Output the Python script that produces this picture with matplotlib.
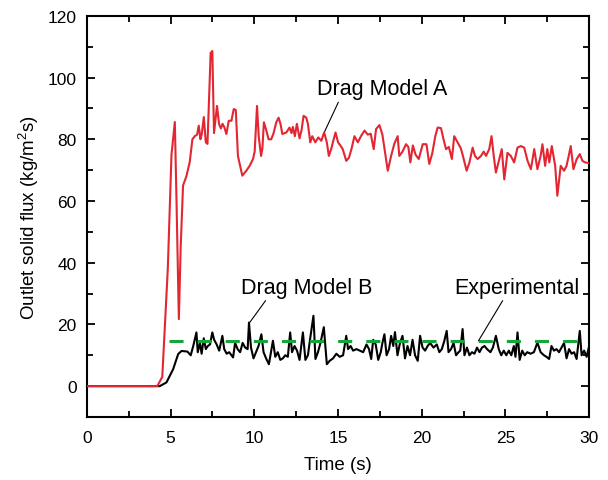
import numpy as np
import matplotlib.pyplot as plt
from matplotlib.ticker import MultipleLocator

# Drag Model A (red)
t_a = [0, 4.2, 4.5, 4.83, 5.05, 5.25, 5.35, 5.49, 5.6, 5.74, 5.94, 6.14, 6.3, 6.44, 6.58, 6.68,
       6.78, 6.86, 6.98, 7.1, 7.2, 7.39, 7.49, 7.59, 7.77, 7.89, 8.0, 8.1, 8.2, 8.33, 8.47, 8.63,
       8.77, 8.89, 9.02, 9.28, 9.52, 9.72, 9.92, 10.02, 10.16, 10.26, 10.4, 10.48, 10.57, 10.71,
       10.85, 11.01, 11.15, 11.31, 11.45, 11.57, 11.67, 11.91, 12.1, 12.22, 12.3, 12.42, 12.54,
       12.7, 12.82, 12.94, 13.1, 13.2, 13.34, 13.46, 13.64, 13.82, 14.0, 14.17, 14.33, 14.45,
       14.6, 14.69, 14.85, 15.0, 15.14, 15.28, 15.49, 15.65, 15.8, 15.98, 16.18, 16.38, 16.58,
       16.78, 16.95, 17.13, 17.27, 17.47, 17.65, 17.8, 17.97, 18.17, 18.36, 18.56, 18.66, 18.85,
       19.06, 19.2, 19.32, 19.47, 19.63, 19.82, 20.06, 20.28, 20.45, 20.63, 20.81, 20.95, 21.15,
       21.3, 21.45, 21.62, 21.8, 21.94, 22.14, 22.34, 22.46, 22.68, 22.85, 23.04, 23.18, 23.34,
       23.54, 23.7, 23.84, 24.03, 24.17, 24.3, 24.43, 24.63, 24.78, 24.93, 25.12, 25.32, 25.52,
       25.72, 25.92, 26.12, 26.32, 26.52, 26.72, 26.91, 27.1, 27.21, 27.37, 27.5, 27.62, 27.77,
       27.97, 28.1, 28.3, 28.5, 28.65, 28.78, 28.9, 29.06, 29.25, 29.44, 29.6, 29.75, 30.0]
flux_a = [0, 0, 3, 38, 75, 85.6, 60, 21.7, 45, 65, 68, 72.6, 80, 81, 81.5, 84.4,
          80, 81.7, 87.2, 79, 78.5, 108, 108.6, 82, 90.8, 85, 83.5, 85, 84, 81.7, 86, 86,
          89.8, 89.5, 74.6, 68.2, 69.8, 71.4, 73.6, 76, 90.8, 81, 74.6, 77, 85.5, 83,
          80, 80, 82, 85.5, 87, 84.8, 81.7, 82.2, 83.8, 82, 84, 81, 85,
          80.3, 83, 87.6, 87, 85, 79, 81, 79, 80.6, 79.5, 82.2, 79, 74.6,
          77, 79, 82.2, 79, 78, 76.8, 73, 74, 76.8, 81, 79, 81.1, 82.8,
          81.5, 81.8, 76.8, 83.3, 84.6, 81.5, 76, 69.8, 74.6, 78.5, 81, 74.6, 76,
          78.4, 77.5, 72.5, 78, 75, 73.6, 78.4, 78.4, 72, 75.5, 81, 83.8, 83.6,
          80, 76.8, 77.5, 73.6, 81, 79, 77, 74.6, 69.8, 72.5, 77.3, 74.6, 73.6,
          74.6, 76, 74.6, 76.8, 81, 74.6, 69.2, 73.6, 76.8, 67, 75.6, 74.6, 72.5,
          77.3, 77.8, 77.3, 73, 70.3, 76.8, 70.3, 74.6, 78.4, 71.4, 76.8, 72.5, 77.8,
          71.4, 61.7, 71.4, 69.8, 71.4, 74.6, 77.8, 70.3, 73.5, 75.2, 73, 72.5, 72.3]

# Drag Model B (black)
t_b = [0, 4.35, 4.75, 5.15, 5.45, 5.65, 6.0, 6.2, 6.35, 6.54, 6.62, 6.75, 6.85, 6.98, 7.1, 7.22,
       7.35, 7.49, 7.6, 7.75, 7.9, 8.09, 8.2, 8.35, 8.5, 8.73, 8.85, 9.0, 9.15, 9.3, 9.45, 9.6,
       9.68, 9.8, 9.95, 10.1, 10.25, 10.42, 10.55, 10.7, 10.87, 11.11, 11.25, 11.4, 11.55, 11.7,
       11.85, 12.0, 12.14, 12.25, 12.4, 12.55, 12.7, 12.9, 13.05, 13.2, 13.35, 13.53, 13.65, 13.8,
       13.95, 14.15, 14.33, 14.5, 14.7, 14.9, 15.1, 15.3, 15.49, 15.6, 15.75, 15.9, 16.1, 16.3,
       16.5, 16.7, 16.85, 16.98, 17.1, 17.25, 17.4, 17.55, 17.65, 17.77, 17.9, 18.05, 18.17, 18.3,
       18.4, 18.55, 18.7, 18.85, 19.0, 19.15, 19.3, 19.45, 19.6, 19.76, 19.9, 20.05, 20.2, 20.35,
       20.5, 20.7, 20.9, 21.05, 21.2, 21.35, 21.49, 21.6, 21.75, 21.9, 22.05, 22.2, 22.3, 22.44,
       22.55, 22.7, 22.85, 23.0, 23.15, 23.3, 23.45, 23.6, 23.75, 23.9, 24.1, 24.25, 24.43, 24.6,
       24.75, 24.9, 25.05, 25.2, 25.35, 25.5, 25.6, 25.72, 25.85, 26.0, 26.15, 26.3, 26.5, 26.7,
       26.91, 27.1, 27.3, 27.45, 27.61, 27.75, 27.9, 28.05, 28.2, 28.35, 28.5, 28.65, 28.8, 28.95,
       29.1, 29.25, 29.44, 29.55, 29.7, 29.85, 30.0]
flux_b = [0, 0, 1.2, 5.5, 10.4, 11.4, 11.2, 10, 13, 17.4, 11, 14, 10.5, 15.5, 12, 13,
          13.5, 17.4, 15, 13.5, 11.5, 16.3, 12, 10.5, 11, 9.3, 14, 12, 11, 14, 12.5, 12,
          20.6, 12.5, 9, 11, 13, 16.8, 11, 9, 7.1, 14.7, 9.5, 11, 8.5, 9,
          10, 9.5, 17.4, 11, 13, 11.5, 8.5, 17.4, 8.5, 10, 16, 22.8, 8.8, 11,
          14, 19.1, 7.1, 8.2, 9, 10.5, 9.5, 10, 16.3, 12, 13, 11.5, 12, 11.5,
          11, 13.5, 12, 8.8, 15, 13.5, 8.5, 11, 14, 16.8, 10, 12, 16.3, 13,
          17.5, 10, 14, 16.3, 9, 13, 10, 15, 10, 8.2, 16.3, 12.5, 11.5, 13,
          14, 12.5, 13.5, 11, 12, 14.7, 17.9, 11, 12, 14, 10, 11, 11.5, 18.5,
          10, 12.5, 10, 11, 10.5, 12.5, 11, 12.5, 13, 12, 11, 12.5, 16.3, 12,
          10, 11.5, 10, 11.5, 10, 13, 9.5, 17.4, 8.5, 11.5, 10, 11, 10.5, 11,
          14.1, 11, 10, 9.5, 8.8, 13, 11.5, 12, 11, 12.5, 14, 9, 12, 10.5,
          11, 8.8, 17.9, 10, 11.5, 9.5, 13]

# Experimental (green dashed)
t_exp = [4.9, 29.6]
flux_exp = [14.5, 14.5]

plt.rcParams['font.family'] = ['Liberation Sans', 'DejaVu Sans']
plt.rcParams['mathtext.fontset'] = 'custom'
plt.rcParams['mathtext.rm'] = 'Liberation Sans'

fig = plt.figure(figsize=(6.08, 4.81), dpi=100)
ax = fig.add_axes([0.143, 0.131, 0.826, 0.834])

ax.plot(t_b, flux_b, color='black', lw=1.5, zorder=2)
ax.plot(t_exp, flux_exp, color='#16a53a', lw=2.2, linestyle=(0, (4.6, 4.6)), zorder=3)
ax.plot(t_a, flux_a, color='#e32631', lw=1.5, zorder=4)

# annotations
fs = 15.5
line = dict(arrowstyle='-', lw=0.8, color='black', shrinkA=0, shrinkB=0)
ax.annotate('Drag Model A', xy=(14.19, 82.4), xytext=(13.77, 96.3), fontsize=fs,
            va='center', ha='left', arrowprops=dict(line, relpos=(0.17, 0.0)))
ax.annotate('Drag Model B', xy=(9.72, 20.6), xytext=(9.22, 32.0), fontsize=fs,
            va='center', ha='left', arrowprops=dict(line, relpos=(0.2, 0.0)))
ax.annotate('Experimental', xy=(23.39, 14.7), xytext=(21.94, 32.0), fontsize=fs,
            va='center', ha='left', arrowprops=dict(line, relpos=(0.4, 0.0)))

ax.set_xlim(0, 30)
ax.set_ylim(-10, 120)
ax.xaxis.set_major_locator(MultipleLocator(5))
ax.xaxis.set_minor_locator(MultipleLocator(2.5))
ax.yaxis.set_major_locator(MultipleLocator(20))
ax.yaxis.set_minor_locator(MultipleLocator(10))
ax.tick_params(which='both', direction='in', top=True, right=True, width=1.3, labelsize=12.5)
ax.tick_params(which='major', length=6)
ax.tick_params(which='minor', length=4)
ax.tick_params(axis='x', which='major', pad=9.5)
ax.tick_params(axis='y', which='major', pad=7.5)
for s in ax.spines.values():
    s.set_linewidth(1.5)

ax.set_xlabel('Time (s)', fontsize=13.5, labelpad=8)
ax.set_ylabel('Outlet solid flux (kg/m$^2$s)', fontsize=13.5, labelpad=5)

fig.savefig('out.png', dpi=100)
